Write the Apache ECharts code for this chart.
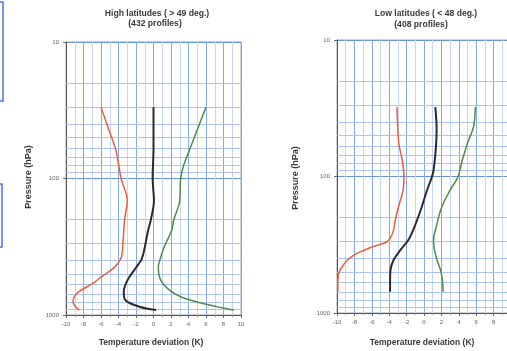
<!DOCTYPE html>
<html>
<head>
<meta charset="utf-8">
<script src="https://cdn.jsdelivr.net/npm/echarts@6/dist/echarts.min.js"></script>
<style>
  html, body { margin: 0; padding: 0; background: #fff; }
  #chart { width: 507px; height: 351px; }
</style>
</head>
<body>
<div id="chart"></div>
<script>
// pressure levels (hPa) and temperature deviation (K)
const highRedP = [30, 44, 62, 100, 145, 200, 300, 380, 450, 527, 585, 690, 800, 920];
const highRedT = [-6.0, -5.1, -4.3, -3.7, -3.0, -3.3, -3.5, -3.7, -4.5, -6.0, -6.9, -8.7, -9.2, -8.5];
const highBlackP = [30, 60, 100, 145, 200, 237, 382, 450, 560, 680, 780, 870, 920];
const highBlackT = [0.0, 0.0, -0.1, 0.05, -0.3, -0.6, -1.3, -2.0, -3.0, -3.4, -3.2, -1.6, 0.3];
const highGreenP = [30, 44, 62, 82, 100, 145, 202, 237, 320, 382, 445, 550, 655, 735, 810, 885, 920];
const highGreenT = [6.0, 5.0, 4.1, 3.4, 3.1, 3.0, 2.3, 2.1, 1.2, 0.8, 0.55, 0.8, 1.8, 3.1, 5.2, 7.8, 9.2];

const lowRedP = [31, 57, 76, 101, 126, 156, 208, 247, 277, 302, 329, 363, 409, 459, 510, 605, 700];
const lowRedT = [-3.1, -2.9, -2.5, -2.3, -2.4, -2.8, -3.3, -3.5, -3.8, -4.3, -6.0, -7.6, -8.8, -9.4, -9.8, -9.9, -9.9];
const lowBlackP = [31, 45, 64, 90, 101, 126, 170, 234, 292, 345, 409, 484, 580, 700];
const lowBlackT = [1.3, 1.45, 1.35, 1.1, 0.9, 0.35, -0.3, -1.1, -1.8, -2.7, -3.5, -3.85, -3.9, -3.9];
const lowGreenP = [31, 43, 57, 76, 101, 126, 170, 234, 292, 345, 409, 484, 570, 700];
const lowGreenT = [5.9, 5.7, 5.0, 4.4, 3.9, 3.0, 2.0, 1.4, 1.1, 1.2, 1.5, 1.9, 2.1, 2.2];

// log-paper grid lines between the decades
const pMinorLines = [20, 30, 40, 50, 60, 70, 80, 90, 200, 300, 400, 500, 600, 700, 800, 900];

const titles = [
  ["High latitudes ( > 49 deg.)", "(432 profiles)"],
  ["Low latitudes ( < 48 deg.)", "(408 profiles)"],
];

const FONT = "Liberation Sans";
const RED = "#e4603f";
const BLACK = "#2b2b2b";
const GREEN = "#4f8c45";

const zip = (t, p) => t.map((v, i) => [v, p[i]]);

const chart = echarts.init(document.getElementById("chart"), null, { renderer: "canvas" });

function xAxisFor(i) {
  return {
    gridIndex: i,
    type: "value",
    min: -10,
    max: 10,
    interval: 2,
    axisLine: { show: true, onZero: false, lineStyle: { color: "#555", width: 1 } },
    axisTick: { show: true, length: 3, lineStyle: { color: "#666" } },
    minorTick: { show: true, splitNumber: 2, length: 2, lineStyle: { color: "#888" } },
    axisLabel: { fontSize: 6, color: "#666", margin: 6, fontFamily: FONT },
    splitLine: { show: true, lineStyle: { color: "#86a9e0", width: 1 } },
    minorSplitLine: { show: true, lineStyle: { color: "#c6d7f1", width: 1 } },
  };
}

function yAxisFor(i) {
  return {
    gridIndex: i,
    type: "log",
    logBase: 10,
    min: 10,
    max: 1000,
    inverse: true,
    axisLine: { show: true, onZero: false, lineStyle: { color: "#555", width: 1 } },
    axisTick: { show: true, length: 3, lineStyle: { color: "#666" } },
    axisLabel: {
      fontSize: 6, color: "#666", margin: 7, fontFamily: FONT,
      formatter: (v) => String(v),
    },
    splitLine: { show: true, lineStyle: { color: "#6a92d6", width: 1 } },
  };
}

function curve(i, data, color, width) {
  return {
    type: "line",
    xAxisIndex: i,
    yAxisIndex: i,
    data: data,
    smooth: 0.35,
    showSymbol: false,
    z: 10,
    lineStyle: { color: color, width: width },
  };
}

function gridLines(i) {
  return {
    type: "line",
    xAxisIndex: i,
    yAxisIndex: i,
    data: [],
    silent: true,
    markLine: {
      silent: true,
      symbol: ["none", "none"],
      label: { show: false },
      lineStyle: { color: "#adc5ec", width: 1, type: "solid" },
      emphasis: { disabled: true },
      data: pMinorLines.map((p) => ({ yAxis: p })),
    },
  };
}

function textEl(text, x, y, size, weight, rot) {
  return {
    type: "text",
    x: x,
    y: y,
    rotation: rot || 0,
    style: {
      text: text,
      fill: "#3a3a3a",
      font: `${weight} ${size}px "${FONT}"`,
      textAlign: "center",
      textVerticalAlign: "middle",
    },
  };
}

chart.setOption({
  animation: false,
  backgroundColor: "#fff",
  grid: [
    { left: 66, top: 42, width: 175, height: 273, show: true, borderColor: "#a5a5a5", borderWidth: 1, outerBoundsMode: "none", containLabel: false },
    { left: 337, top: 40, width: 174, height: 273, show: true, borderColor: "#a5a5a5", borderWidth: 1, outerBoundsMode: "none", containLabel: false },
  ],
  xAxis: [xAxisFor(0), xAxisFor(1)],
  yAxis: [yAxisFor(0), yAxisFor(1)],
  series: [
    gridLines(0),
    gridLines(1),
    curve(0, zip(highRedT, highRedP), RED, 1.5),
    curve(0, zip(highBlackT, highBlackP), BLACK, 2),
    curve(0, zip(highGreenT, highGreenP), GREEN, 1.5),
    curve(1, zip(lowRedT, lowRedP), RED, 1.5),
    curve(1, zip(lowBlackT, lowBlackP), BLACK, 2),
    curve(1, zip(lowGreenT, lowGreenP), GREEN, 1.5),
  ],
  graphic: [
    textEl(titles[0][0], 157, 14, 8.6, "bold"),
    textEl(titles[0][1], 155, 24, 8.6, "bold"),
    textEl(titles[1][0], 426, 14, 8.6, "bold"),
    textEl(titles[1][1], 421, 25, 8.6, "bold"),
    textEl("Pressure (hPa)", 29, 177, 9, "bold", Math.PI / 2),
    textEl("Pressure (hPa)", 296, 178, 9, "bold", Math.PI / 2),
    textEl("Temperature deviation (K)", 151, 343, 8.5, "bold"),
    textEl("Temperature deviation (K)", 422, 343, 8.5, "bold"),
    {
      type: "rect",
      shape: { x: -3, y: 2, width: 6, height: 99 },
      style: { fill: "none", stroke: "#4d6ff2", lineWidth: 1.5 },
    },
    {
      type: "rect",
      shape: { x: -3, y: 184, width: 5, height: 63 },
      style: { fill: "none", stroke: "#4d6ff2", lineWidth: 1.5 },
    },
  ],
});
</script>
</body>
</html>
